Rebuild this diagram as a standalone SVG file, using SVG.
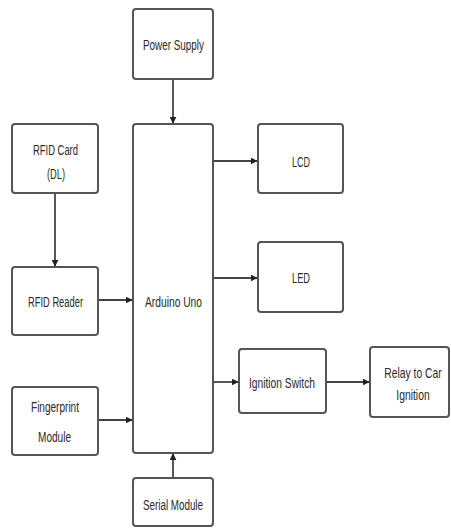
<svg xmlns="http://www.w3.org/2000/svg" width="451" height="530" viewBox="0 0 451 530">
<style>
.box{fill:#fff;stroke:#555;stroke-width:2}
.t{font-family:"Liberation Sans",Arial,sans-serif;font-size:14px;fill:#2a2a2a;text-anchor:middle}
.c{stroke:#444;stroke-width:1.8;fill:none;marker-end:url(#ah)}
</style>
<defs>
<marker id="ah" viewBox="0 0 10 10" refX="9" refY="5" markerWidth="7" markerHeight="7" markerUnits="userSpaceOnUse" orient="auto"><path d="M0,0 L10,5 L0,10 z" fill="#222"/></marker>
</defs>
<rect width="451" height="530" fill="#fff"/>
<g id="connectors">
<line class="c" x1="173" y1="79" x2="173" y2="123"/>
<line class="c" x1="55" y1="193" x2="55" y2="266"/>
<line class="c" x1="98" y1="300" x2="132" y2="300"/>
<line class="c" x1="98" y1="420" x2="132" y2="420"/>
<line class="c" x1="173" y1="478" x2="173" y2="454"/>
<line class="c" x1="213" y1="161" x2="257" y2="161"/>
<line class="c" x1="213" y1="278" x2="257" y2="278"/>
<line class="c" x1="213" y1="382" x2="238" y2="382"/>
<line class="c" x1="326" y1="382" x2="369" y2="382"/>
</g>
<g id="power"><rect class="box" x="133" y="9" width="80" height="70" rx="3"/><text class="t" x="173.5" y="50" textLength="61" lengthAdjust="spacingAndGlyphs">Power Supply</text></g>
<g id="arduino"><rect class="box" x="133" y="124" width="80" height="329" rx="3"/><text class="t" x="173.5" y="307" textLength="57" lengthAdjust="spacingAndGlyphs">Arduino Uno</text></g>
<g id="rfidcard"><rect class="box" x="12" y="124" width="86" height="69" rx="3"/><text class="t" x="55.5" y="155" textLength="45" lengthAdjust="spacingAndGlyphs">RFID Card</text><text class="t" x="56" y="179" textLength="18" lengthAdjust="spacingAndGlyphs">(DL)</text></g>
<g id="rfidreader"><rect class="box" x="12" y="267" width="86" height="68" rx="3"/><text class="t" x="55.5" y="307" textLength="55" lengthAdjust="spacingAndGlyphs">RFID Reader</text></g>
<g id="fingerprint"><rect class="box" x="12" y="387" width="86" height="68" rx="3"/><text class="t" x="55" y="412" textLength="48" lengthAdjust="spacingAndGlyphs">Fingerprint</text><text class="t" x="54.5" y="442" textLength="33" lengthAdjust="spacingAndGlyphs">Module</text></g>
<g id="serial"><rect class="box" x="133" y="478" width="80" height="48" rx="3"/><text class="t" x="173" y="510" textLength="60" lengthAdjust="spacingAndGlyphs">Serial Module</text></g>
<g id="lcd"><rect class="box" x="258" y="124" width="85" height="69" rx="3"/><text class="t" x="301" y="167" textLength="18" lengthAdjust="spacingAndGlyphs">LCD</text></g>
<g id="led"><rect class="box" x="258" y="242" width="85" height="70" rx="3"/><text class="t" x="301" y="283" textLength="18" lengthAdjust="spacingAndGlyphs">LED</text></g>
<g id="ignition"><rect class="box" x="239" y="349" width="87" height="64" rx="3"/><text class="t" x="282" y="388" textLength="66" lengthAdjust="spacingAndGlyphs">Ignition Switch</text></g>
<g id="relay"><rect class="box" x="370" y="347" width="79" height="70" rx="3"/><text class="t" transform="translate(413,378) scale(0.74,1)">Relay to Car</text><text class="t" transform="translate(413,400) scale(0.74,1)">Ignition</text></g>
</svg>
